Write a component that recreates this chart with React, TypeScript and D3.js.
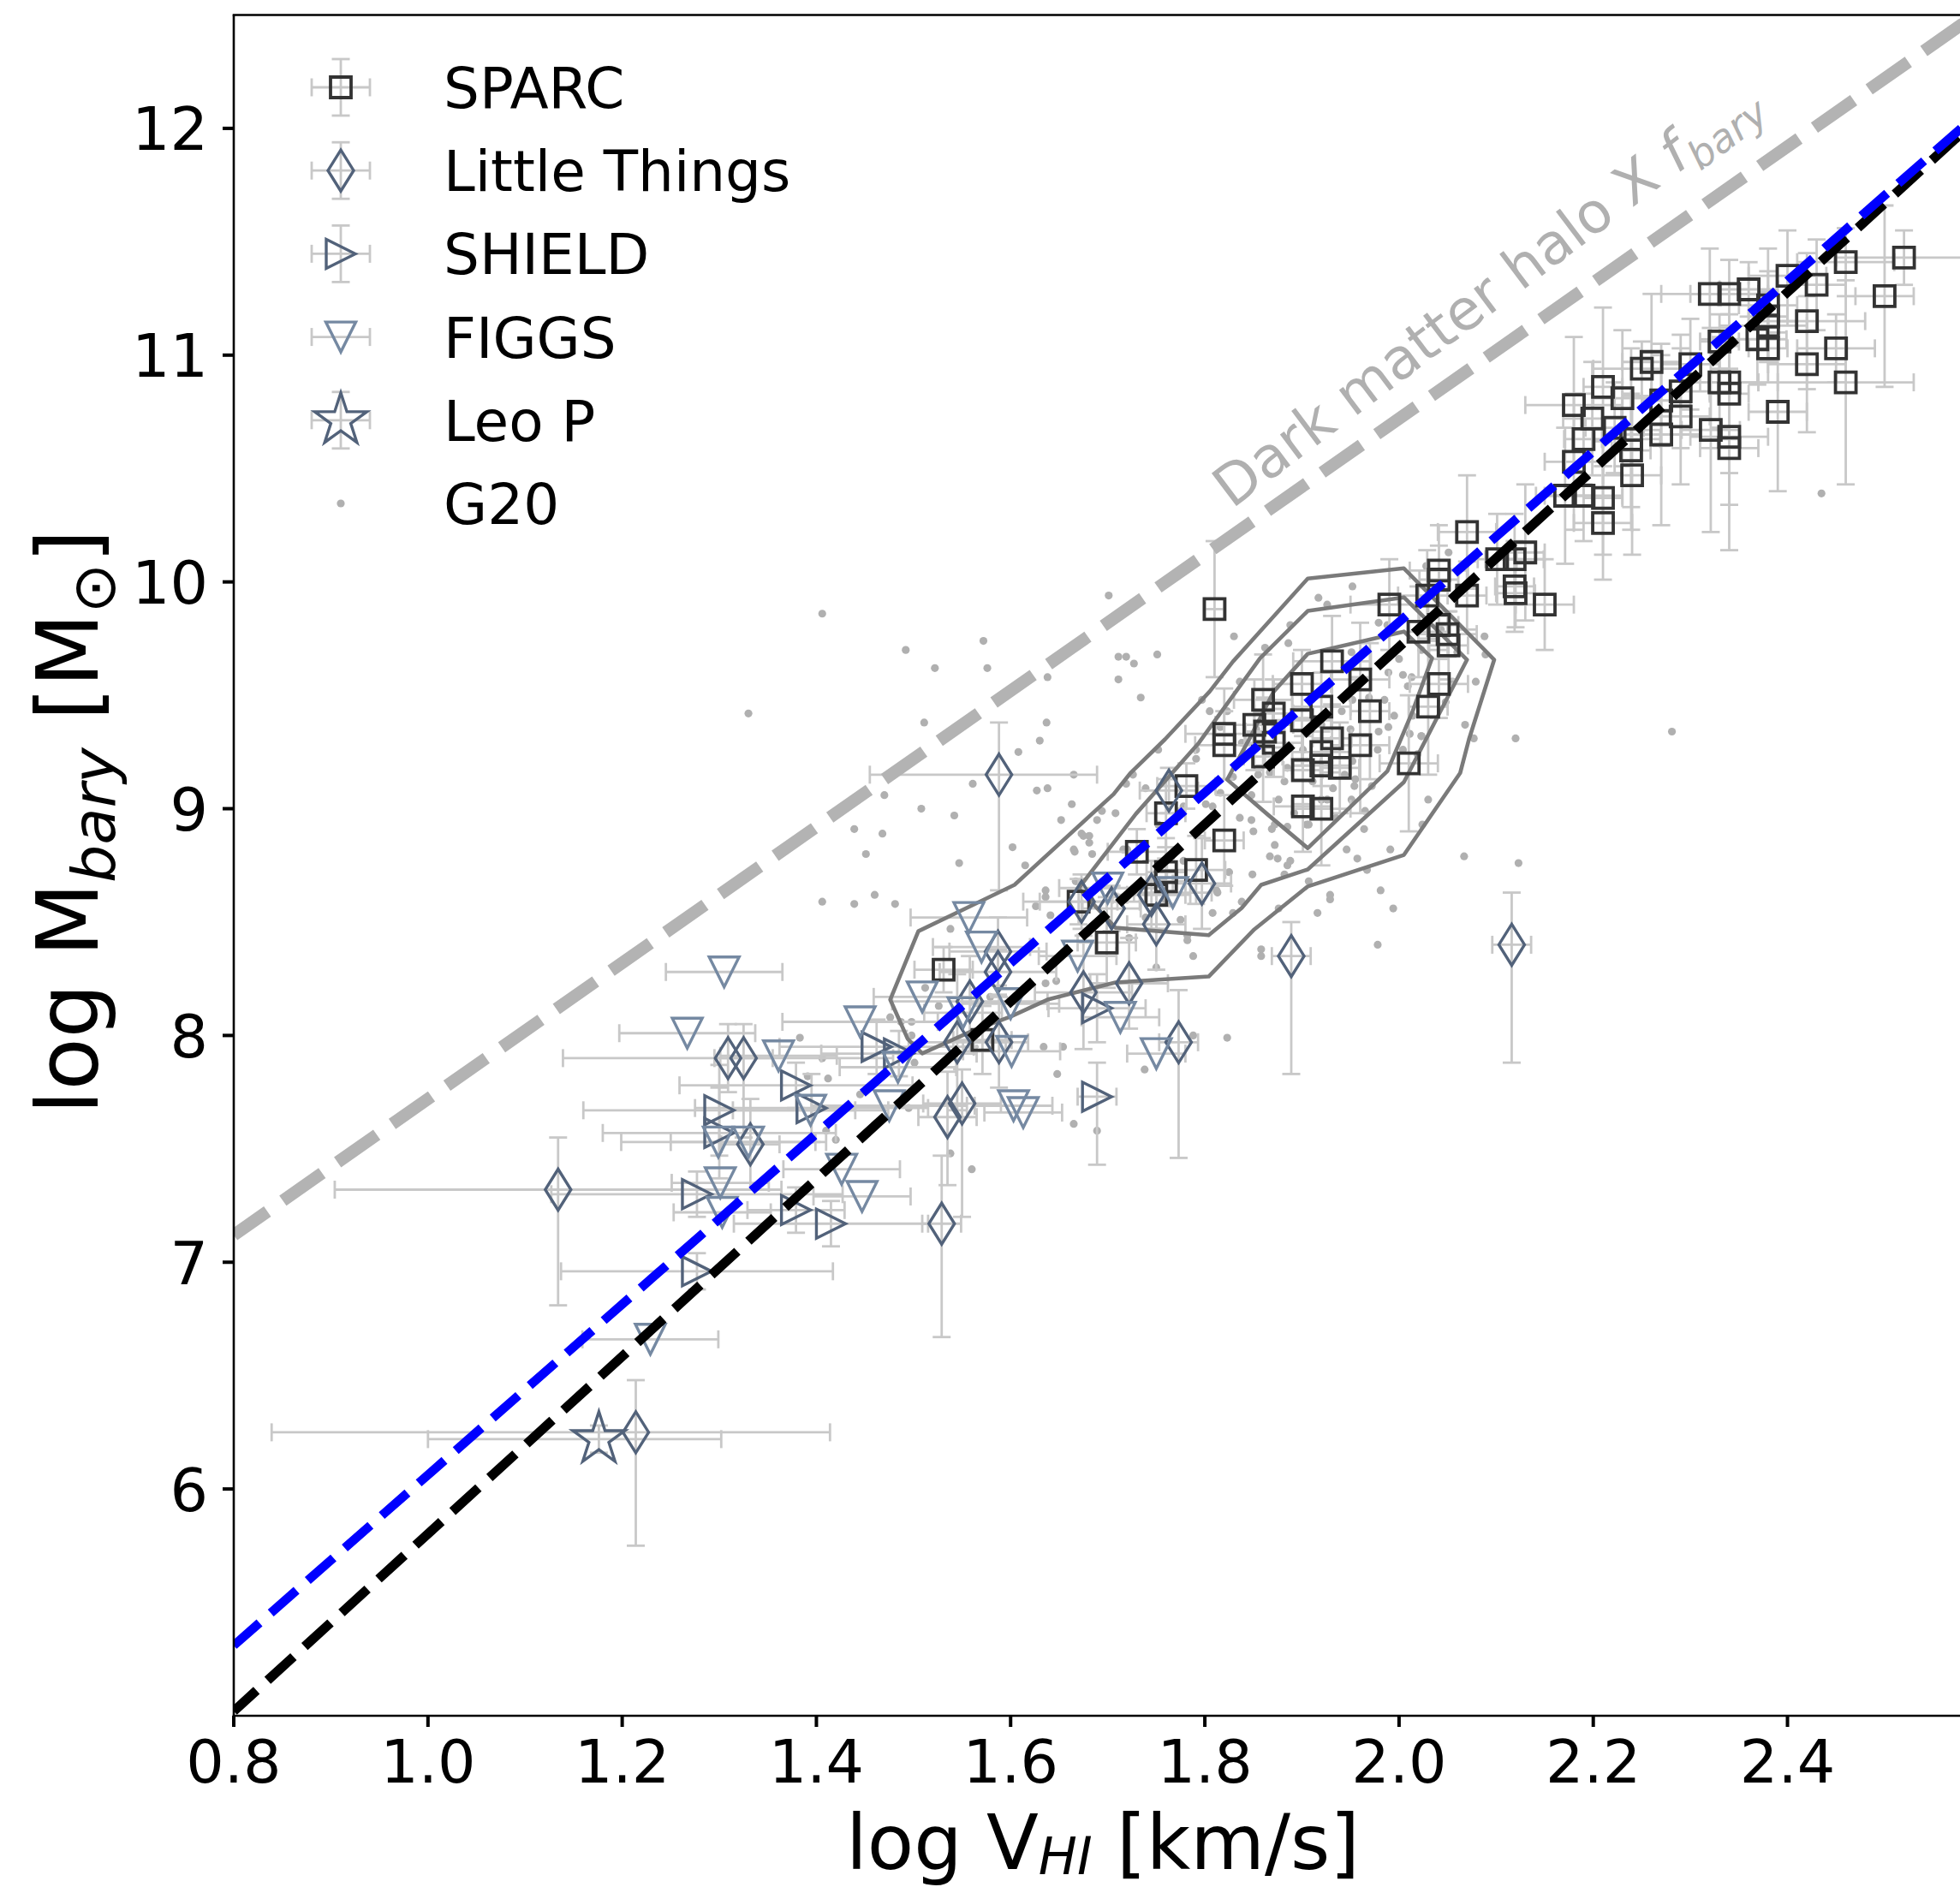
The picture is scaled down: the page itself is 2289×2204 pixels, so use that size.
import React from "react";
import * as d3 from "d3";

const WIDTH = 2289;
const HEIGHT = 2204;
const PLOT = { left: 273, right: 2303, top: 17.5, bottom: 2004 };
const X_DOMAIN: [number, number] = [0.8, 2.59];
const Y_DOMAIN: [number, number] = [5, 12.5];
const X_TICKS = [0.8, 1.0, 1.2, 1.4, 1.6, 1.8, 2.0, 2.2, 2.4];
const Y_TICKS = [6, 7, 8, 9, 10, 11, 12];
const FONT = "DejaVu Sans, Liberation Sans, sans-serif";

type Err = number | [number, number] | null;
type Row = [number, number, Err, Err];

// SPARC: [logV, logM, xerr, yerr]
const SPARC: Row[] = [
  [2.320, 11.27, 0.05, 0.2], [2.340, 11.27, 0.04, 0.15], [2.360, 11.29, 0.03, 0.12], [2.400, 11.35, 0.04, 0.2],
  [2.460, 11.41, 0.05, 0.15], [2.520, 11.43, 0.07, 0.12], [2.500, 11.26, 0.03, 0.4], [2.430, 11.31, 0.03, 0.2],
  [2.380, 11.22, 0.03, 0.25], [2.380, 11.17, 0.02, 0.2], [2.380, 11.13, 0.04, 0.15], [2.369, 11.07, 0.03, 0.2],
  [2.380, 11.03, 0.02, 0.15], [2.420, 11.15, 0.06, 0.3], [2.450, 11.03, 0.04, 0.15], [2.420, 10.96, 0.04, 0.3],
  [2.460, 10.88, 0.07, 0.45], [2.390, 10.75, 0.03, 0.35], [2.330, 11.06, 0.02, 0.12], [2.300, 10.96, 0.03, 0.2],
  [2.260, 10.97, 0.03, 0.3], [2.250, 10.94, 0.05, 0.12], [2.210, 10.86, 0.02, 0.35], [2.230, 10.81, 0.03, 0.3],
  [2.180, 10.78, 0.05, 0.3], [2.199, 10.72, 0.03, 0.25], [2.190, 10.63, 0.02, 0.2], [2.180, 10.53, 0.03, 0.3],
  [2.239, 10.63, 0.03, 0.4], [2.239, 10.58, 0.02, 0.25], [2.222, 10.68, 0.03, 0.2], [2.270, 10.65, 0.04, 0.4],
  [2.290, 10.73, 0.03, 0.3], [2.290, 10.84, 0.03, 0.25], [2.270, 10.80, 0.02, 0.2], [2.330, 10.88, 0.04, 0.2],
  [2.340, 10.88, 0.03, 0.25], [2.340, 10.83, 0.02, 0.35], [2.321, 10.67, 0.03, 0.45], [2.340, 10.64, 0.04, 0.3],
  [2.340, 10.59, 0.03, 0.45], [2.240, 10.47, 0.03, 0.35], [2.171, 10.38, 0.03, 0.3], [2.190, 10.38, 0.04, 0.2],
  [2.210, 10.37, 0.02, 0.25], [2.210, 10.26, 0.03, 0.25], [2.130, 10.13, 0.02, 0.3], [2.119, 10.10, 0.03, 0.2],
  [2.119, 9.98, 0.02, 0.2], [2.150, 9.90, 0.03, 0.2], [2.070, 10.22, 0.03, 0.25], [2.101, 10.10, 0.02, 0.2],
  [2.120, 9.95, 0.02, 0.15], [2.041, 10.05, 0.03, 0.2], [2.041, 10.01, 0.02, 0.15], [2.029, 9.94, 0.03, 0.2],
  [2.070, 9.94, 0.02, 0.15], [1.990, 9.90, 0.04, 0.2], [2.020, 9.78, 0.03, 0.2], [2.041, 9.81, 0.02, 0.15],
  [2.050, 9.77, 0.03, 0.1], [2.051, 9.72, 0.02, 0.15], [2.041, 9.55, 0.03, 0.15], [2.030, 9.45, 0.02, 0.3],
  [2.010, 9.20, 0.03, 0.3], [1.931, 9.65, 0.04, 0.2], [1.900, 9.55, 0.03, 0.15], [1.960, 9.57, 0.03, 0.25],
  [1.970, 9.43, 0.02, 0.3], [1.920, 9.45, 0.03, 0.15], [1.860, 9.48, 0.03, 0.2], [1.871, 9.42, 0.02, 0.15],
  [1.851, 9.37, 0.04, 0.2], [1.862, 9.34, 0.02, 0.15], [1.820, 9.33, 0.04, 0.2], [1.820, 9.28, 0.03, 0.15],
  [1.871, 9.29, 0.03, 0.15], [1.860, 9.23, 0.02, 0.2], [1.900, 9.39, 0.03, 0.2], [1.931, 9.31, 0.02, 0.15],
  [1.960, 9.28, 0.03, 0.3], [1.920, 9.25, 0.03, 0.15], [1.901, 9.17, 0.02, 0.15], [1.920, 9.19, 0.03, 0.15],
  [1.939, 9.18, 0.02, 0.2], [1.901, 9.01, 0.03, 0.2], [1.920, 9.00, 0.03, 0.25], [1.810, 9.88, 0.01, 0.3],
  [1.781, 9.10, 0.03, 0.1], [1.760, 8.98, 0.02, 0.15], [1.730, 8.81, 0.03, 0.1], [1.760, 8.72, 0.02, 0.15],
  [1.760, 8.68, 0.02, 0.1], [1.750, 8.62, 0.03, 0.15], [1.791, 8.73, 0.03, 0.15], [1.820, 8.86, 0.02, 0.2],
  [1.670, 8.59, 0.04, 0.1], [1.699, 8.41, 0.03, 0.2], [1.531, 8.29, 0.03, 0.1], [1.571, 7.98, 0.03, 0.15],
];

// Little Things: [logV, logM, xerr, yerr([lo, hi])]
const LITTLE_THINGS: Row[] = [
  [1.588, 9.15, [0.133, 0.101], [0.51, 0.23]], [1.763, 9.08, 0.03, 0.1], [1.889, 8.35, 0.02, [0.52, 0.15]],
  [2.116, 8.40, 0.02, [0.52, 0.23]], [1.587, 8.37, 0.05, 0.15], [1.587, 8.28, 0.06, 0.1], [1.558, 8.15, 0.08, 0.2],
  [1.545, 7.97, 0.05, 0.3], [1.588, 7.97, 0.03, 0.2], [1.673, 8.59, 0.06, 0.12], [1.704, 8.56, 0.03, 0.1],
  [1.745, 8.62, 0.04, 0.15], [1.750, 8.49, 0.03, 0.2], [1.797, 8.67, 0.03, 0.2], [1.675, 8.19, 0.05, 0.25],
  [1.722, 8.23, 0.04, 0.2], [1.773, 7.97, 0.02, [0.51, 0.23]], [1.535, 7.64, 0.03, [0.3, 0.2]],
  [1.550, 7.70, 0.04, [0.5, 0.15]], [1.529, 7.17, 0.02, [0.5, 0.3]], [1.309, 7.90, 0.17, 0.15],
  [1.325, 7.90, 0.03, [0.35, 0.15]], [1.332, 7.52, 0.03, 0.2], [1.134, 7.32, 0.23, [0.51, 0.23]],
  [1.214, 6.25, [0.375, 0.2], [0.5, 0.23]],
];

const SHIELD: Row[] = [
  [1.462, 7.95, 0.1, 0.12], [1.485, 7.92, 0.08, 0.1], [1.379, 7.78, 0.12, 0.1], [1.395, 7.68, 0.12, 0.15],
  [1.300, 7.67, 0.14, 0.2], [1.300, 7.57, 0.12, 0.2], [1.277, 7.30, 0.15, 0.1], [1.379, 7.23, 0.05, 0.1],
  [1.415, 7.17, 0.1, 0.1], [1.277, 6.96, 0.14, 0.08], [1.689, 8.12, 0.05, 0.15], [1.689, 7.73, 0.02, [0.3, 0.15]],
];

const FIGGS: Row[] = [
  [1.305, 8.28, 0.06, null], [1.267, 8.01, 0.07, null], [1.361, 7.91, 0.06, null], [1.445, 8.06, 0.08, null],
  [1.509, 8.17, 0.05, null], [1.484, 7.86, 0.06, null], [1.394, 7.67, 0.08, null], [1.299, 7.53, 0.1, null],
  [1.330, 7.53, 0.08, null], [1.301, 7.35, 0.05, null], [1.303, 7.22, 0.05, null], [1.426, 7.41, 0.06, null],
  [1.447, 7.29, 0.05, null], [1.475, 7.69, 0.08, null], [1.557, 8.52, 0.06, null], [1.570, 8.39, 0.05, null],
  [1.600, 8.14, 0.05, null], [1.551, 8.10, 0.04, null], [1.601, 7.93, 0.05, null], [1.669, 8.35, 0.04, null],
  [1.700, 8.65, 0.05, null], [1.713, 8.08, 0.04, null], [1.750, 7.92, 0.03, null], [1.767, 8.63, 0.04, null],
  [1.603, 7.69, 0.04, null], [1.613, 7.66, 0.04, null], [1.229, 6.66, 0.07, null],
];

const LEO_P: Row[] = [[1.176, 6.22, [0.176, 0.126], 0.06]];

const G20: [number, number][] = [
  [1.406, 9.86], [1.701, 9.94], [1.917, 9.93], [1.492, 9.70], [1.572, 9.74], [1.522, 9.62], [1.576, 9.62],
  [1.711, 9.67], [1.719, 9.67], [1.727, 9.64], [1.751, 9.68], [1.711, 9.57], [1.638, 9.58], [1.330, 9.42],
  [1.734, 9.49], [1.830, 9.76], [1.886, 9.73], [1.511, 9.38], [1.637, 9.38], [1.630, 9.30], [1.608, 9.25],
  [1.561, 9.11], [1.627, 9.08], [1.638, 9.09], [1.665, 9.15], [1.470, 9.06], [1.508, 9.00], [1.542, 8.97],
  [1.439, 8.91], [1.468, 8.89], [1.451, 8.80], [1.547, 8.76], [1.602, 8.83], [1.663, 9.02], [1.652, 8.95],
  [1.689, 8.95], [1.708, 8.98], [1.406, 8.59], [1.439, 8.58], [1.460, 8.62], [1.481, 8.58], [1.538, 8.47],
  [1.665, 8.82], [1.615, 8.75], [1.673, 8.89], [1.681, 8.88], [1.681, 8.85], [1.666, 8.81], [1.684, 8.80],
  [1.719, 9.11], [1.739, 9.09], [1.636, 8.64], [1.626, 8.57], [1.641, 8.53], [1.642, 8.48], [1.667, 8.68],
  [1.636, 8.61], [1.716, 8.82], [1.782, 8.42], [1.788, 8.35], [1.829, 8.54], [1.825, 8.72], [1.812, 8.64],
  [1.788, 8.00], [1.823, 7.99], [1.738, 7.85], [1.654, 7.95], [1.634, 7.95], [1.648, 7.83], [1.665, 7.61],
  [1.689, 7.58], [1.560, 7.41], [1.538, 7.48], [1.636, 8.23], [1.647, 8.24], [1.476, 8.08], [1.487, 8.06],
  [1.498, 8.06], [1.498, 8.00], [1.412, 7.81], [1.406, 7.90], [1.495, 7.68], [1.420, 7.54], [1.579, 8.17],
  [1.722, 8.43], [1.750, 8.30], [1.383, 7.99], [1.391, 7.82], [1.445, 7.74], [1.410, 7.58], [1.501, 7.88],
  [1.512, 8.21], [1.526, 8.13],
  [1.862, 9.71], [1.805, 9.43], [1.791, 9.22], [1.801, 9.02], [1.808, 9.01], [1.848, 9.06], [1.848, 8.95],
  [1.850, 8.90], [1.869, 8.91], [1.872, 8.84], [1.867, 8.79], [1.875, 8.78], [1.885, 8.75], [1.885, 8.92],
  [1.838, 8.59], [1.916, 8.54], [1.929, 8.62], [1.957, 8.78], [1.967, 8.73], [1.981, 8.64], [1.994, 8.56],
  [2.024, 8.93], [2.077, 9.31], [2.120, 9.31], [2.123, 8.76], [2.089, 9.68], [2.079, 9.56], [2.051, 10.13],
  [2.028, 10.07], [1.979, 9.82], [1.988, 9.81], [1.951, 9.69], [2.000, 9.66], [2.013, 9.58], [1.989, 9.60],
  [2.009, 9.54], [1.979, 9.34], [1.989, 9.36], [1.995, 9.41], [2.014, 9.41], [2.011, 9.33], [2.023, 9.32],
  [2.019, 9.24], [1.950, 9.35], [1.944, 9.15], [1.955, 9.13], [1.954, 9.10], [1.951, 9.04], [1.932, 9.09],
  [1.935, 8.96], [1.920, 9.04], [1.911, 9.12], [1.885, 9.18], [1.882, 9.12], [1.876, 9.04], [1.892, 8.98],
  [1.867, 9.16], [1.838, 9.29], [1.910, 9.48], [1.941, 9.43], [1.969, 9.49], [2.048, 9.47], [2.060, 9.69],
  [1.853, 9.35], [1.829, 9.14], [1.816, 9.07], [1.816, 9.36], [1.905, 8.93], [1.882, 8.71], [1.876, 8.56],
  [1.808, 8.54], [1.813, 8.63], [1.775, 8.51], [1.782, 8.44], [1.964, 8.91],
  [2.281, 9.34], [2.435, 10.39], [1.978, 8.40], [2.067, 8.79], [1.858, 8.38], [1.858, 8.35],
  [1.791, 9.26], [1.836, 8.96], [1.855, 9.15], [1.872, 8.93], [1.888, 8.77], [1.907, 8.68], [1.929, 8.60],
  [1.778, 8.77], [1.759, 8.60], [1.739, 8.52], [1.849, 8.71], [1.946, 8.82], [1.965, 8.99], [1.978, 9.26],
  [1.985, 9.48], [2.004, 9.59], [2.023, 9.70], [2.043, 9.79], [2.055, 9.56], [2.068, 9.37], [2.088, 9.76],
  [1.823, 9.43], [1.836, 9.56], [1.888, 9.81], [1.926, 9.90], [1.952, 9.98], [1.797, 9.48], [1.752, 9.26],
  [1.726, 9.15], [1.694, 8.99], [1.675, 8.88], [1.720, 8.82], [1.752, 8.93], [1.778, 9.01], [1.901, 9.26],
  [1.920, 9.37], [1.952, 9.48], [1.952, 9.21], [1.972, 9.10], [1.926, 9.04], [1.907, 8.93], [2.004, 9.26],
  [2.023, 9.32], [1.991, 8.82], [2.030, 9.04],
];

// G20 density contours (closed)
const CONTOUR_OUTER: [number, number][] = [
  [1.476, 8.158], [1.505, 8.460], [1.573, 8.600], [1.604, 8.664], [1.706, 9.064], [1.723, 9.155], [1.759, 9.306],
  [1.805, 9.517], [1.829, 9.649], [1.906, 10.015], [2.005, 10.060], [2.098, 9.657], [2.072, 9.306], [2.063, 9.158],
  [2.005, 8.796], [1.906, 8.657], [1.851, 8.468], [1.804, 8.260], [1.708, 8.234], [1.638, 8.158], [1.600, 8.083],
  [1.562, 8.023], [1.509, 7.921], [1.494, 7.985],
];
const CONTOUR_MID: [number, number][] = [
  [1.670, 8.649], [1.729, 8.977], [1.794, 9.291], [1.857, 9.664], [1.906, 9.872], [2.005, 9.932], [2.070, 9.657],
  [2.005, 9.117], [1.906, 8.732], [1.858, 8.664], [1.838, 8.562], [1.804, 8.442], [1.708, 8.475],
];
const CONTOUR_INNER: [number, number][] = [
  [1.906, 9.683], [2.005, 9.781], [2.034, 9.664], [2.014, 9.430], [1.988, 9.166], [1.906, 8.826], [1.864, 8.977],
  [1.823, 9.128], [1.847, 9.317], [1.871, 9.517],
];

// Relations (endpoints in data units)
const HALO_LINE: [number, number][] = [[0.8, 7.12], [2.6, 12.52]];
const BLACK_FIT: [number, number][] = [[0.8, 5.02], [2.6, 12.06]];
const BLUE_FIT: [number, number][] = [[0.8, 5.31], [2.6, 12.08]];
const ANNOTATION_AT: [number, number] = [1.828, 10.32];

const LEGEND_LABELS = ["SPARC", "Little Things", "SHIELD", "FIGGS", "Leo P", "G20"];

const C_SPARC = "#333333";
const C_SLATE = "#52627a";
const C_FIGGS = "#7589a2";
const C_ERR = "#c8c8c8";
const C_G20 = "#b0b0b0";

function starPath(R: number): string {
  const r = R * 0.381966;
  const pts: string[] = [];
  for (let i = 0; i < 10; i++) {
    const a = ((-90 + i * 36) * Math.PI) / 180;
    const rad = i % 2 === 0 ? R : r;
    pts.push(`${(rad * Math.cos(a)).toFixed(2)},${(rad * Math.sin(a)).toFixed(2)}`);
  }
  return "M" + pts.join("L") + "Z";
}

function markerPath(kind: string): string {
  switch (kind) {
    case "square":
      return "M-12,-12H12V12H-12Z";
    case "thin_diamond":
      return "M0,-24L15,0L0,24L-15,0Z";
    case "tri_right":
      return "M17,0L-17,-17L-17,17Z";
    case "tri_down":
      return "M0,17.5L-17.5,-17.5L17.5,-17.5Z";
    case "star":
      return starPath(32);
    default:
      return "";
  }
}

const pair = (e: Err): [number, number] | null =>
  e == null ? null : Array.isArray(e) ? e : [e, e];

export default function App() {
  const x = d3.scaleLinear().domain(X_DOMAIN).range([PLOT.left, PLOT.right]);
  const y = d3.scaleLinear().domain(Y_DOMAIN).range([PLOT.bottom, PLOT.top]);
  const line = d3
    .line<[number, number]>()
    .x((d) => x(d[0]))
    .y((d) => y(d[1]));
  const closed = d3
    .line<[number, number]>()
    .x((d) => x(d[0]))
    .y((d) => y(d[1]))
    .curve(d3.curveLinearClosed);
  const fmt = d3.format(".1f");

  const series = [
    { data: SPARC, kind: "square", color: C_SPARC, sw: 3.8 },
    { data: LITTLE_THINGS, kind: "thin_diamond", color: C_SLATE, sw: 3.4 },
    { data: SHIELD, kind: "tri_right", color: C_SLATE, sw: 3.4 },
    { data: FIGGS, kind: "tri_down", color: C_FIGGS, sw: 3.4 },
    { data: LEO_P, kind: "star", color: C_SLATE, sw: 3.4 },
  ];

  const CAP = 10.5;
  const errorBars = (rows: Row[], key: string) =>
    rows.map((d, i) => {
      const cx = x(d[0]);
      const cy = y(d[1]);
      const xe = pair(d[2]);
      const ye = pair(d[3]);
      return (
        <g key={key + i}>
          {xe && (
            <>
              <line x1={x(d[0] - xe[0])} x2={x(d[0] + xe[1])} y1={cy} y2={cy} />
              <line x1={x(d[0] - xe[0])} x2={x(d[0] - xe[0])} y1={cy - CAP} y2={cy + CAP} />
              <line x1={x(d[0] + xe[1])} x2={x(d[0] + xe[1])} y1={cy - CAP} y2={cy + CAP} />
            </>
          )}
          {ye && (
            <>
              <line x1={cx} x2={cx} y1={y(d[1] - ye[0])} y2={y(d[1] + ye[1])} />
              <line x1={cx - CAP} x2={cx + CAP} y1={y(d[1] - ye[0])} y2={y(d[1] - ye[0])} />
              <line x1={cx - CAP} x2={cx + CAP} y1={y(d[1] + ye[1])} y2={y(d[1] + ye[1])} />
            </>
          )}
        </g>
      );
    });

  const legendX = 398;
  const legendY0 = 102;
  const legendStep = 97.2;
  const legendTextX = 518;
  const legendHasErr = [
    [true, true],
    [true, true],
    [true, true],
    [true, false],
    [true, true],
    [false, false],
  ];

  const ann = [x(ANNOTATION_AT[0]), y(ANNOTATION_AT[1])];

  return (
    <svg
      width={WIDTH}
      height={HEIGHT}
      viewBox={`0 0 ${WIDTH} ${HEIGHT}`}
      style={{ position: "absolute", left: 0, top: 0, background: "#fff" }}
      fontFamily={FONT}
    >
      <rect x={0} y={0} width={WIDTH} height={HEIGHT} fill="#fff" />
      <defs>
        <clipPath id="plotClip">
          <rect x={PLOT.left} y={PLOT.top} width={PLOT.right - PLOT.left} height={PLOT.bottom - PLOT.top} />
        </clipPath>
      </defs>

      <g clipPath="url(#plotClip)">
        {/* G20 dots */}
        <g fill={C_G20}>
          {G20.map((d, i) => (
            <circle key={"g" + i} cx={x(d[0])} cy={y(d[1])} r={4.6} />
          ))}
        </g>

        {/* error bars */}
        <g stroke={C_ERR} strokeWidth={2.8} fill="none">
          {series.map((s, si) => errorBars(s.data, "e" + si + "-"))}
        </g>

        {/* contours */}
        <g stroke="#7a7a7a" strokeWidth={4.6} fill="none" strokeLinejoin="round">
          <path d={closed(CONTOUR_OUTER) || ""} />
          <path d={closed(CONTOUR_MID) || ""} />
          <path d={closed(CONTOUR_INNER) || ""} />
        </g>

        {/* markers */}
        {series.map((s, si) => (
          <g key={"m" + si} stroke={s.color} strokeWidth={s.sw} fill="none" strokeLinejoin="miter">
            {s.data.map((d, i) => (
              <path key={i} d={markerPath(s.kind)} transform={`translate(${x(d[0])},${y(d[1])})`} />
            ))}
          </g>
        ))}

        {/* relations */}
        <path d={line(HALO_LINE) || ""} stroke="#b3b3b3" strokeWidth={14.5} strokeDasharray="56 22" strokeDashoffset={8} fill="none" />
        <path d={line(BLACK_FIT) || ""} stroke="#000" strokeWidth={11} strokeDasharray="41 17.5" strokeDashoffset={5} fill="none" />
        <path d={line(BLUE_FIT) || ""} stroke="#0000ff" strokeWidth={10.5} strokeDasharray="40 17.5" strokeDashoffset={0} fill="none" />
      </g>

      {/* annotation */}
      <text
        x={ann[0]}
        y={ann[1]}
        fill="#b0b0b0"
        fontSize={66}
        transform={`rotate(-37, ${ann[0]}, ${ann[1]})`}
      >
        Dark matter halo X{" "}
        <tspan fontStyle="italic">f</tspan>
        <tspan fontStyle="italic" fontSize={46} dy={14}>
          bary
        </tspan>
      </text>

      {/* frame */}
      <g stroke="#000" strokeWidth={2.6} fill="none">
        <line x1={PLOT.left} x2={PLOT.left} y1={PLOT.top} y2={PLOT.bottom + 1.3} />
        <line x1={PLOT.left - 1.3} x2={PLOT.right} y1={PLOT.bottom} y2={PLOT.bottom} />
        <line x1={PLOT.left - 1.3} x2={PLOT.right} y1={PLOT.top} y2={PLOT.top} />
        <line x1={PLOT.right} x2={PLOT.right} y1={PLOT.top} y2={PLOT.bottom} />
      </g>

      {/* x ticks */}
      <g>
        {X_TICKS.map((t) => (
          <g key={"xt" + t}>
            <line x1={x(t)} x2={x(t)} y1={PLOT.bottom} y2={PLOT.bottom + 13} stroke="#000" strokeWidth={4} />
            <text x={x(t)} y={PLOT.bottom + 78} fontSize={70} textAnchor="middle" fill="#000">
              {fmt(t)}
            </text>
          </g>
        ))}
      </g>

      {/* y ticks */}
      <g>
        {Y_TICKS.map((t) => (
          <g key={"yt" + t}>
            <line x1={PLOT.left - 13} x2={PLOT.left} y1={y(t)} y2={y(t)} stroke="#000" strokeWidth={4} />
            <text x={PLOT.left - 30} y={y(t) + 25.5} fontSize={70} textAnchor="end" fill="#000">
              {t}
            </text>
          </g>
        ))}
      </g>

      {/* axis labels */}
      <text x={(PLOT.left + PLOT.right) / 2} y={2183} fontSize={89} textAnchor="middle" fill="#000">
        log V<tspan fontStyle="italic" fontSize={60} dy={6}>HI</tspan>
        <tspan dy={-6}> [km/s]</tspan>
      </text>
      <text
        x={114}
        y={960}
        fontSize={100}
        textAnchor="middle"
        fill="#000"
        transform="rotate(-90, 114, 960)"
      >
        log M<tspan fontStyle="italic" fontSize={70} dy={20}>bary</tspan>
        <tspan dy={-20}> [M</tspan>
        <tspan fontSize={70} dy={20}>⊙</tspan>
        <tspan dy={-20}>]</tspan>
      </text>

      {/* legend */}
      <g>
        {LEGEND_LABELS.map((lab, i) => {
          const ly = legendY0 + i * legendStep;
          const s = series[i];
          const [hx, hy] = legendHasErr[i];
          return (
            <g key={"lg" + i}>
              <g stroke={C_ERR} strokeWidth={2.8}>
                {hx && (
                  <>
                    <line x1={legendX - 34} x2={legendX + 34} y1={ly} y2={ly} />
                    <line x1={legendX - 34} x2={legendX - 34} y1={ly - CAP} y2={ly + CAP} />
                    <line x1={legendX + 34} x2={legendX + 34} y1={ly - CAP} y2={ly + CAP} />
                  </>
                )}
                {hy && (
                  <>
                    <line x1={legendX} x2={legendX} y1={ly - 33} y2={ly + 33} />
                    <line x1={legendX - CAP} x2={legendX + CAP} y1={ly - 33} y2={ly - 33} />
                    <line x1={legendX - CAP} x2={legendX + CAP} y1={ly + 33} y2={ly + 33} />
                  </>
                )}
              </g>
              {s ? (
                <path
                  d={markerPath(s.kind)}
                  transform={`translate(${legendX},${ly})`}
                  stroke={s.color}
                  strokeWidth={s.sw}
                  fill="none"
                />
              ) : (
                <circle cx={legendX} cy={ly} r={4.6} fill={C_G20} />
              )}
              <text x={legendTextX} y={ly + 24} fontSize={66} fill="#000">
                {lab}
              </text>
            </g>
          );
        })}
      </g>
    </svg>
  );
}
